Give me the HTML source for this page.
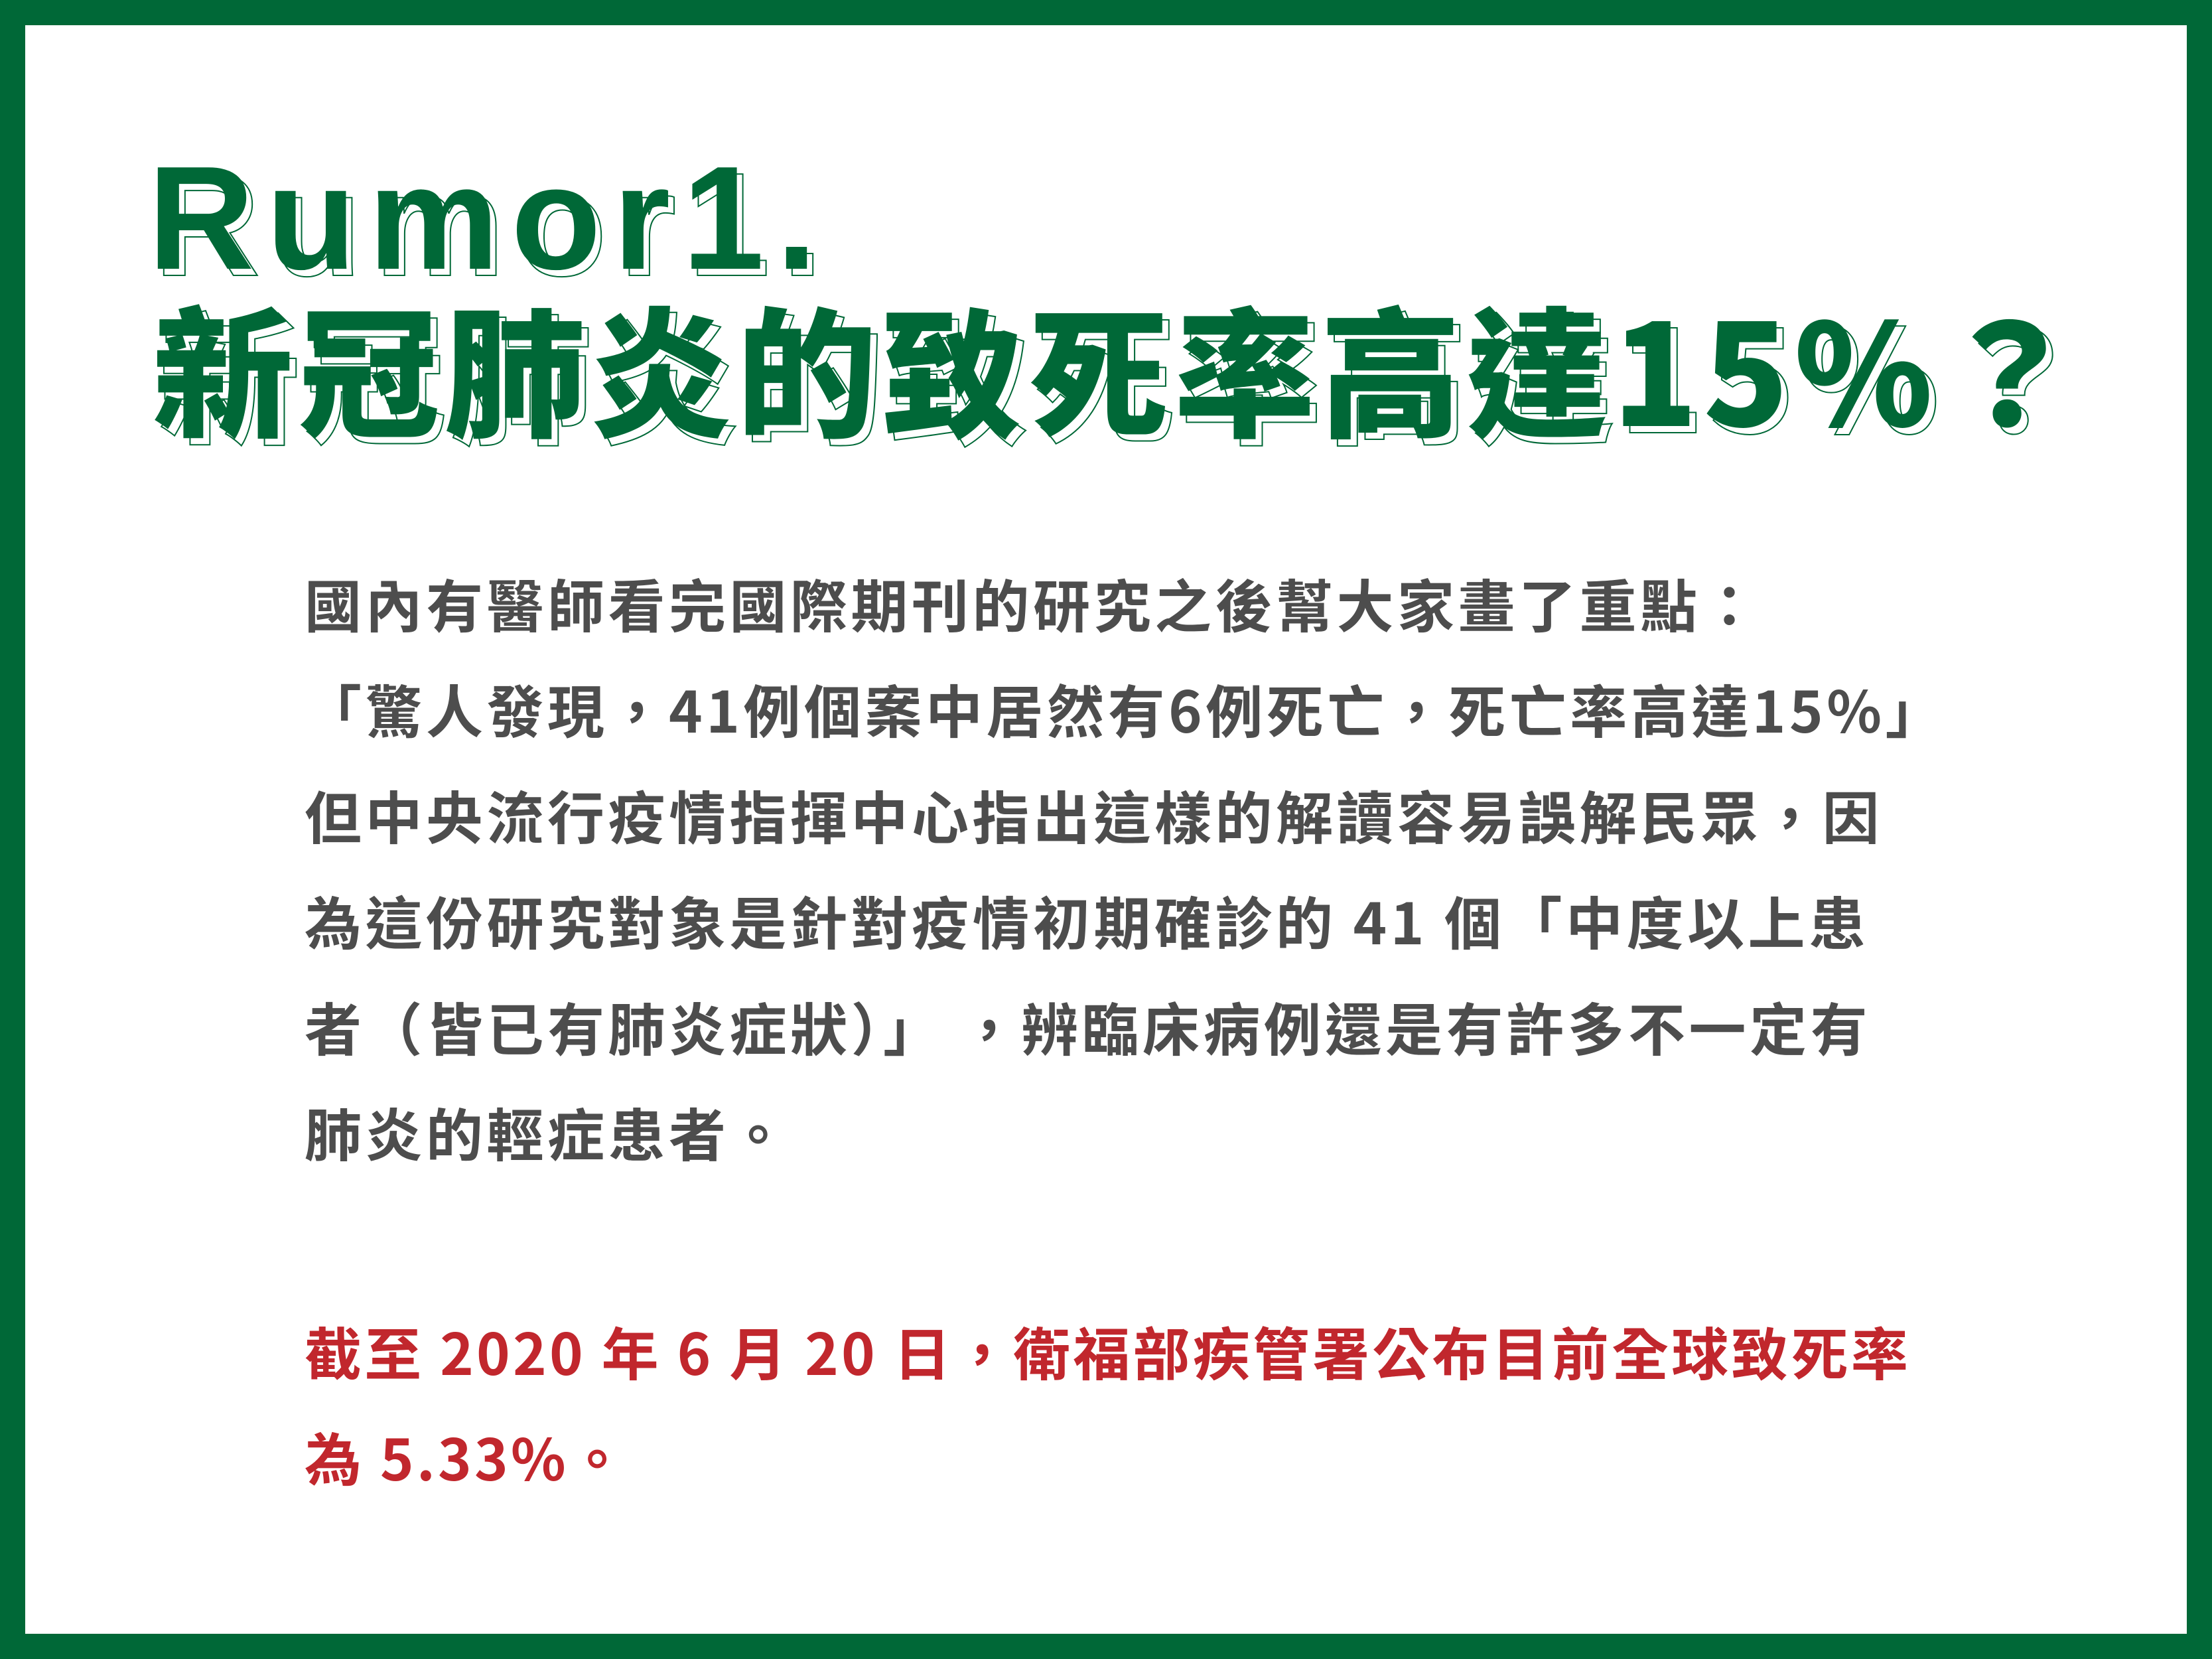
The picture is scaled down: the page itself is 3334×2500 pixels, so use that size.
<!DOCTYPE html>
<html><head><meta charset="utf-8">
<style>
html,body{margin:0;padding:0}
body{width:3334px;height:2500px;position:relative;background:#fff;overflow:hidden;font-family:"Noto Sans CJK TC",sans-serif}
.frame{position:absolute;left:0;top:0;width:3334px;height:2500px;box-sizing:border-box;border:38px solid #006837}
.t{position:absolute;white-space:pre;font-weight:900;line-height:1}
.sh{color:#fff;-webkit-text-stroke:2px #006837}
.fg{color:#006837}
.b{position:absolute;left:459px;white-space:pre;font-weight:700;font-size:86px;letter-spacing:5.5px;line-height:1;color:#4d4d4d;font-family:"Noto Sans CJK TC",sans-serif}
.r{color:#c1272d;letter-spacing:4.2px}
</style></head>
<body>
<div class="frame"></div>
<div>
<div class="t sh" style="left:232px;top:228px;font-size:222px;letter-spacing:18px;font-family:'Liberation Sans',sans-serif">Rumor1.</div>
<div class="t fg" style="left:223px;top:218px;font-size:222px;letter-spacing:18px;font-family:'Liberation Sans',sans-serif">Rumor1.</div>
</div>
<div>
<div class="t sh" style="left:240px;top:455px;font-size:212px;letter-spacing:8px;font-family:'Noto Sans CJK TC',sans-serif">新冠肺炎的致死率高達15%？</div>
<div class="t fg" style="left:230px;top:445px;font-size:212px;letter-spacing:8px;font-family:'Noto Sans CJK TC',sans-serif">新冠肺炎的致死率高達15%？</div>
</div>
<div class="b" style="top:865px">國內有醫師看完國際期刊的研究之後幫大家畫了重點：</div>
<div class="b" style="top:1024px">「驚人發現，41例個案中居然有6例死亡，死亡率高達15%」</div>
<div class="b" style="top:1184px">但中央流行疫情指揮中心指出這樣的解讀容易誤解民眾，因</div>
<div class="b" style="top:1343px">為這份研究對象是針對疫情初期確診的 41 個「中度以上患</div>
<div class="b" style="top:1503px">者（皆已有肺炎症狀）」 ，辨臨床病例還是有許多不一定有</div>
<div class="b" style="top:1662px">肺炎的輕症患者。</div>
<div class="b r" style="top:1992px">截至 2020 年 6 月 20 日，衛福部疾管署公布目前全球致死率</div>
<div class="b r" style="top:2151px">為 5.33%。</div>
</body></html>
